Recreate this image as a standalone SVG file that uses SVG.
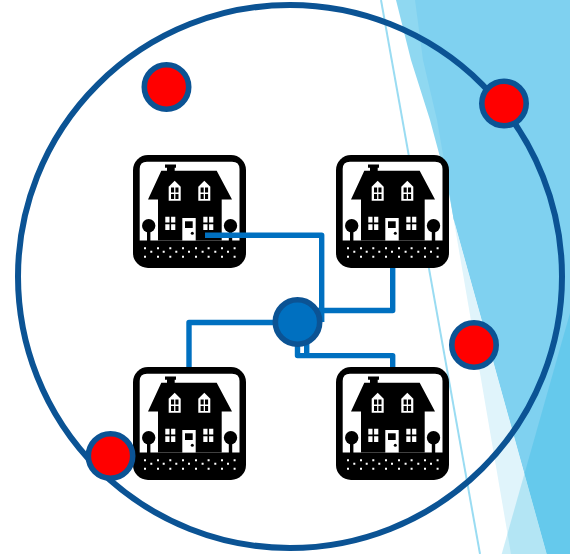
<svg xmlns="http://www.w3.org/2000/svg" width="570" height="554" viewBox="0 0 570 554">
<style>
.ring{fill:none;stroke:#0b5394;stroke-width:6}
.red{fill:#ff0000;stroke:#0b5394;stroke-width:5.6}
.hub{fill:#0070c0;stroke:#0b5394;stroke-width:5.6}
.link{fill:none;stroke:#0070c0;stroke-width:5.4;stroke-linejoin:round}
.w{fill:#fff}
.k{fill:#000}
</style>
<defs>
<g id="win"><path class="w" d="M0,6 L6,0 L12,6 V20 H0 Z"/><path class="k" d="M2.3,6.8 H5.4 V11.8 H2.3 Z M6.7,6.8 H9.8 V11.8 H6.7 Z M2.3,13.4 H5.4 V18.4 H2.3 Z M6.7,13.4 H9.8 V18.4 H6.7 Z"/></g>
<g id="pane"><path class="w" d="M0,0 H4.2 V5.7 H0 Z M5.8,0 H10 V5.7 H5.8 Z M0,7.6 H4.2 V13.3 H0 Z M5.8,7.6 H10 V13.3 H5.8 Z"/></g>
<g id="house">
<rect class="k" x="0" y="0" width="113" height="113" rx="15"/>
<path class="w" d="M14,6.7 H99 Q106.5,6.7 106.5,14 V85.5 H6.7 V14 Q6.7,6.7 14,6.7 Z"/>
<path class="k" d="M32,9.5 H43 V12.7 H41.7 V15.7 H83.7 L99,44.5 H88.7 V85.5 H25 V44.5 H15 L28.3,15.7 H34 V12.7 H32 Z"/>
<circle class="k" cx="15.7" cy="70.7" r="6.7"/><rect class="k" x="14" y="73" width="3.4" height="13"/>
<circle class="k" cx="97.5" cy="70.7" r="6.7"/><rect class="k" x="95.8" y="73" width="3.4" height="13"/>
<use href="#win" x="35.7" y="25.7"/><use href="#win" x="65.3" y="25.7"/>
<use href="#pane" x="32.3" y="61.7"/><use href="#pane" x="70.3" y="61.7"/>
<rect class="w" x="49.3" y="63" width="13.4" height="22.5"/>
<rect class="k" x="52" y="66.3" width="7.7" height="6.7"/>
<circle class="k" cx="59.3" cy="78.3" r="1.5"/>
<path class="w" d="M11,92.3h2v2h-2z M24,92.3h2v2h-2z M36.3,92.3h2v2h-2z M49,92.3h2v2h-2z M62,92.3h2v2h-2z M74.6,92.3h2v2h-2z M88,92.3h2v2h-2z M100.6,92.3h2v2h-2z M17.3,95.7h2v2h-2z M29.7,95.7h2v2h-2z M42.3,95.7h2v2h-2z M55,95.7h2v2h-2z M68.6,95.7h2v2h-2z M81.3,95.7h2v2h-2z M94,95.7h2v2h-2z M11,100.7h2v2h-2z M24,100.7h2v2h-2z M36.3,100.7h2v2h-2z M49,100.7h2v2h-2z M62,100.7h2v2h-2z M74.6,100.7h2v2h-2z M88,100.7h2v2h-2z M100.6,100.7h2v2h-2z"/>
</g>
</defs>
<rect width="570" height="554" fill="#fff"/>
<g id="background">
<path d="M381,0 L480,554" fill="none" stroke="#9adcf2" stroke-width="2"/>
<path d="M396,0 L411,60 L430,120 L447,183 L453.6,219 L546.7,554 H570 V0 Z" fill="#8fd8f1"/>
<path d="M415,0 L423,60 L437,120 L448,183 L453.6,219 L546.7,554 H570 V0 Z" fill="#7fd1f0"/>
<path d="M453.6,219 L546.7,554 H511 Z" fill="#e0f4fb"/>
<path d="M570,313 V554 H501.7 Z" fill="#00a9dc" fill-opacity="0.2"/>
</g>
<ellipse id="boundary" class="ring" cx="290" cy="276.5" rx="272" ry="271.5"/>
<g id="house-1"><use href="#house" x="133" y="155"/></g>
<g id="house-2"><use href="#house" x="336" y="155"/></g>
<g id="house-3"><use href="#house" x="133" y="367"/></g>
<g id="house-4"><use href="#house" x="336" y="367"/></g>
<g id="connectors">
<path class="link" d="M205,235.3 H321.7 V322"/>
<path class="link" d="M392.7,268 V310.5 H318"/>
<path class="link" d="M189,367 V322.5 H275"/>
<path class="link" d="M297.5,343 V355.6 H392.7 V367"/>
<path class="link" d="M306.7,337 V355.6"/>
</g>
<g id="hub"><circle class="hub" cx="297.5" cy="322" r="22.2"/></g>
<g id="red-1"><circle class="red" cx="166.5" cy="87" r="22.2"/></g>
<g id="red-2"><circle class="red" cx="504" cy="103.5" r="22.2"/></g>
<g id="red-3"><circle class="red" cx="474" cy="345" r="22.2"/></g>
<g id="red-4"><circle class="red" cx="110.5" cy="456" r="22.2"/></g>
</svg>
